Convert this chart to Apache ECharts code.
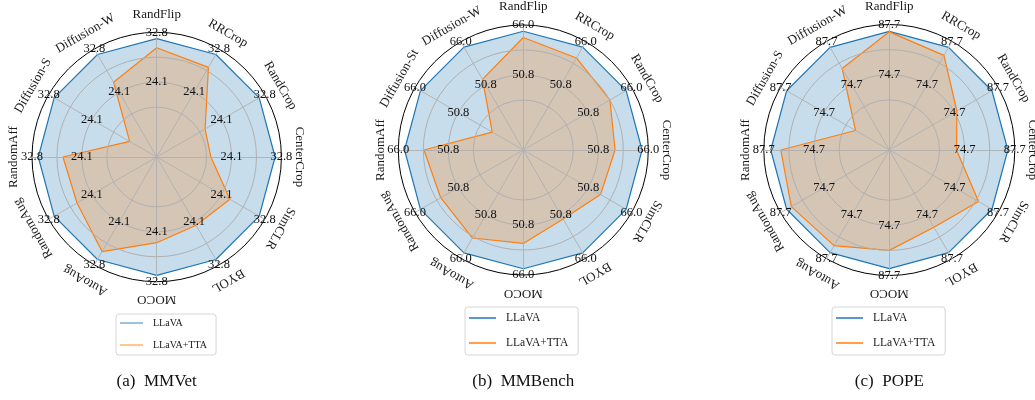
<!DOCTYPE html>
<html>
<head>
<meta charset="utf-8">
<script src="https://cdn.jsdelivr.net/npm/echarts@6/dist/echarts.min.js"></script>
<style>
  html, body { margin: 0; padding: 0; background: #fff; }
  #chart { width: 1035px; height: 400px; }
</style>
</head>
<body>
<div id="chart"></div>
<script>
// Augmentation axes, listed clockwise from the top
const axesMMVet   = ['RandFlip', 'RRCrop', 'RandCrop', 'CenterCrop', 'SimCLR', 'BYOL', 'MOCO', 'AutoAug', 'RandomAug', 'RandomAff', 'Diffusion-S', 'Diffusion-W'];
const axesMMBench = ['RandFlip', 'RRCrop', 'RandCrop', 'CenterCrop', 'SimCLR', 'BYOL', 'MOCO', 'AutoAug', 'RandomAug', 'RandomAff', 'Diffusion-St', 'Diffusion-W'];
const axesPOPE    = ['RandFlip', 'RRCrop', 'RandCrop', 'CenterCrop', 'SimCLR', 'BYOL', 'MOCO', 'AutoAug', 'RandomAug', 'RandomAff', 'Diffusion-S', 'Diffusion-W'];

// Scores per axis
const mmvetLLaVA    = [31.7, 31.7, 31.7, 31.7, 31.7, 31.7, 31.7, 31.7, 31.7, 31.7, 31.7, 31.7];
const mmvetTTA      = [30.1, 29.1, 20.8, 20.5, 25.8, 24.8, 26.0, 30.1, 27.1, 27.4, 16.5, 26.1];
const mmbenchLLaVA  = [64.1, 64.1, 64.1, 64.1, 64.1, 64.1, 64.1, 64.1, 64.1, 64.1, 64.1, 64.1];
const mmbenchTTA    = [62.2, 60.3, 58.4, 55.9, 55.1, 52.2, 56.4, 58.9, 57.0, 58.2, 38.9, 52.8];
const popeLLaVA     = [85.9, 85.9, 85.9, 85.9, 85.9, 85.9, 85.9, 85.9, 85.9, 85.9, 85.9, 85.9];
const popeTTA       = [85.8, 83.5, 75.4, 72.6, 81.9, 78.3, 81.2, 83.8, 84.5, 83.3, 65.3, 79.6];

// Radial scale of each panel: axis minimum, labelled inner tick, labelled outer tick (= axis max)
const axisMins   = [11.05, 28.0, 55.2];
const innerTicks = [24.1, 50.8, 74.7];
const outerTicks = [32.8, 66.0, 87.7];

const seriesNames = ['LLaVA', 'LLaVA+TTA'];
const captions = ['(a)  MMVet', '(b)  MMBench', '(c)  POPE'];

// Panel layout
const panels = [
  { axes: axesMMVet,   base: mmvetLLaVA,   tta: mmvetTTA,   cx: 156.7, cy: 157, r: 124.7,
    legend: { left: 116, top: 314, fontSize: 10, lineHeight: 12, gap: 10, padding: [3, 9, 4, 4], iconW: 23, fade: 0.6 } },
  { axes: axesMMBench, base: mmbenchLLaVA, tta: mmbenchTTA, cx: 523.3, cy: 150, r: 125,
    legend: { left: 465, top: 307, fontSize: 11.5, lineHeight: 14, gap: 11, padding: [4, 10, 5, 4], iconW: 27, fade: 1 } },
  { axes: axesPOPE,    base: popeLLaVA,    tta: popeTTA,    cx: 889.3, cy: 150, r: 125.5,
    legend: { left: 832, top: 307, fontSize: 11.5, lineHeight: 14, gap: 11, padding: [4, 10, 5, 4], iconW: 27, fade: 1 } }
];

const BLUE = '#1f77b4';
const ORANGE = '#ff7f0e';
const FONT = "'Liberation Serif', 'DejaVu Serif', serif";
const GRID = '#b0b0b0';

// ECharts lays radar indicators out counter-clockwise; reorder to run clockwise
const N = 12;
const order = [0];
for (let i = N - 1; i >= 1; i--) order.push(i);
const reorder = arr => order.map(i => arr[i]);

const radars = [];
const series = [];
const legends = [];
const graphics = [];

panels.forEach((p, k) => {
  const lo = innerTicks[k];
  const hi = outerTicks[k];
  radars.push({
    center: [p.cx, p.cy],
    radius: p.r,
    startAngle: 90,
    shape: 'circle',
    splitNumber: 5,
    z: 3,
    indicator: order.map(i => ({ name: p.axes[i], min: axisMins[k], max: hi })),
    axisName: { show: false },
    axisLine: { lineStyle: { color: GRID, width: 0.9 } },
    axisTick: { show: false },
    splitArea: { show: false },
    splitLine: {
      lineStyle: {
        color: ['rgba(0,0,0,0)', 'rgba(0,0,0,0)', GRID, GRID, GRID, '#000'],
        width: 1
      }
    },
    axisLabel: {
      show: true,
      margin: 0,
      align: 'center',
      verticalAlign: 'middle',
      fontSize: 12.5,
      fontFamily: FONT,
      color: '#111',
      showMinLabel: true,
      showMaxLabel: true,
      hideOverlap: false,
      formatter: v => (Math.abs(v - lo) < 1e-6 || Math.abs(v - hi) < 1e-6) ? v.toFixed(1) : ''
    }
  });

  series.push({
    type: 'radar',
    radarIndex: k,
    symbol: 'none',
    silent: true,
    data: [
      { name: seriesNames[0], value: reorder(p.base),
        itemStyle: { color: BLUE }, lineStyle: { color: BLUE, width: 1.2 },
        areaStyle: { color: BLUE, opacity: 0.25 } },
      { name: seriesNames[1], value: reorder(p.tta),
        itemStyle: { color: ORANGE }, lineStyle: { color: ORANGE, width: 1.2 },
        areaStyle: { color: ORANGE, opacity: 0.25 } }
    ]
  });

  const L = p.legend;
  legends.push({
    orient: 'vertical',
    left: L.left,
    top: L.top,
    padding: L.padding,
    itemGap: L.gap,
    itemWidth: L.iconW,
    itemHeight: 1.5,
    icon: 'rect',
    selectedMode: false,
    borderColor: '#d6d6d6',
    borderWidth: 1,
    borderRadius: 3,
    textStyle: { fontFamily: FONT, fontSize: L.fontSize, lineHeight: L.lineHeight, color: '#1a1a1a', padding: [0, 0, 0, 5] },
    data: seriesNames.map(n => ({ name: n, itemStyle: { opacity: L.fade } }))
  });

  // Axis names, rotated to follow the circle
  const nameR = p.r + 18;
  p.axes.forEach((name, i) => {
    const theta = i * 2 * Math.PI / N;
    graphics.push({
      type: 'text',
      x: p.cx + nameR * Math.sin(theta),
      y: p.cy - nameR * Math.cos(theta),
      rotation: -theta,
      silent: true,
      style: {
        text: name,
        fill: '#1a1a1a',
        font: '13px ' + FONT,
        textAlign: 'center',
        textVerticalAlign: 'middle'
      }
    });
  });

  // Panel caption
  graphics.push({
    type: 'text',
    x: p.cx,
    y: 382,
    silent: true,
    style: {
      text: captions[k],
      fill: '#111',
      font: '17px ' + FONT,
      textAlign: 'center',
      textVerticalAlign: 'middle'
    }
  });
});

const chart = echarts.init(document.getElementById('chart'), null, { renderer: 'canvas' });
chart.setOption({
  backgroundColor: '#fff',
  animation: false,
  radar: radars,
  legend: legends,
  series: series,
  graphic: graphics
});
</script>
</body>
</html>
